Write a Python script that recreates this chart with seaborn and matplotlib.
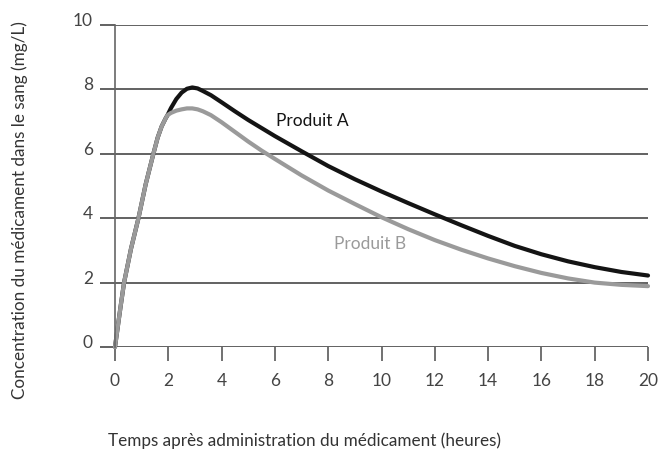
import matplotlib
matplotlib.use("Agg")
import matplotlib.pyplot as plt
from matplotlib.transforms import ScaledTranslation
import numpy as np
import pandas as pd
import seaborn as sns


# -------------------------------------------------------------------------------------------
# Données

temps_a = [0, 0.2, 0.34, 0.6, 0.88, 1.15, 1.44, 1.6, 1.75, 1.9, 1.97, 2.1, 2.3, 2.5, 2.7,
           2.9, 3.1, 3.3, 3.6, 4, 4.5, 5, 5.5, 6, 7, 8, 9, 10, 11, 12, 13, 14, 15, 16,
           17, 18, 19, 20]
conc_a = [0, 1.2, 2, 3.05, 4, 5.05, 6, 6.5, 6.85, 7.1, 7.2, 7.42, 7.7, 7.9, 8.02,
          8.06, 8.03, 7.95, 7.82, 7.6, 7.32, 7.05, 6.8, 6.55, 6.08, 5.62, 5.21, 4.83, 4.47,
          4.12, 3.78, 3.45, 3.14, 2.88, 2.66, 2.48, 2.33, 2.22]

temps_b = [0, 0.2, 0.34, 0.6, 0.88, 1.15, 1.44, 1.6, 1.75, 1.9, 1.97, 2.1, 2.3, 2.5, 2.7,
           2.9, 3.1, 3.3, 3.6, 4, 4.5, 5, 5.5, 6, 7, 8, 9, 10, 11, 12, 13, 14, 15, 16,
           17, 18, 19, 20]
conc_b = [0, 1.2, 2, 3.05, 4, 5.05, 6, 6.5, 6.85, 7.1, 7.2, 7.27, 7.34, 7.38, 7.41,
          7.41, 7.38, 7.32, 7.2, 6.98, 6.68, 6.38, 6.1, 5.84, 5.33, 4.86, 4.44, 4.03, 3.66,
          3.32, 3.02, 2.75, 2.51, 2.3, 2.13, 2.0, 1.93, 1.89]

y_ticks = [0, 2, 4, 6, 8, 10]
x_ticks = list(range(0, 21, 2))

df = pd.concat([
    pd.DataFrame({"temps": temps_a, "conc": conc_a, "produit": "Produit A"}),
    pd.DataFrame({"temps": temps_b, "conc": conc_b, "produit": "Produit B"}),
])


# -------------------------------------------------------------------------------------------
# Style

sns.set_style("white")
plt.rcParams["font.family"] = ["Lato", "DejaVu Sans"]

fig = plt.figure(figsize=(6.58, 4.54), dpi=100)
ax = fig.add_axes([115 / 658, 107 / 454, 533 / 658, 322 / 454])

sns.lineplot(
    data=df, x="temps", y="conc", hue="produit",
    palette={"Produit A": "#141414", "Produit B": "#9a9a9a"},
    linewidth=3.0, legend=False, ax=ax, sort=False,
)
for line in ax.lines:
    line.set_solid_joinstyle("round")
    line.set_solid_capstyle("round")
    line.set_clip_on(False)

# lignes horizontales
for y in y_ticks:
    ax.axhline(y, color="#555555", linewidth=1.3, zorder=0)

ax.set_xlim(0, 20)
ax.set_ylim(0, 10)
ax.set_xticks(x_ticks)
ax.set_yticks(y_ticks)

for side in ["top", "right", "bottom"]:
    ax.spines[side].set_visible(False)
ax.spines["left"].set_color("#666666")
ax.spines["left"].set_linewidth(1.2)

ax.tick_params(axis="y", left=True, length=11, width=1.3, color="#555555", pad=5,
               labelsize=12.5, labelcolor="#444444")
ax.tick_params(axis="x", bottom=True, length=10, width=1.3, color="#666666", pad=9,
               labelsize=12.5, labelcolor="#444444")
for lab in ax.get_yticklabels():
    lab.set_transform(lab.get_transform() + ScaledTranslation(0, 4 / 72, fig.dpi_scale_trans))

ax.set_xlabel("Temps après administration du médicament (heures)", fontsize=12.3, color="#333333")
ax.set_ylabel("Concentration du médicament dans le sang (mg/L)", fontsize=12.3, color="#333333")
ax.xaxis.set_label_coords(190 / 533, -85 / 322)
ax.yaxis.set_label_coords(-87 / 533, 137 / 322)

ax.text(7.39, 7.02, "Produit A", fontsize=12.5, color="#141414", ha="center", va="center")
ax.text(9.57, 3.2, "Produit B", fontsize=12.5, color="#9a9a9a", ha="center", va="center")

fig.savefig("out.png", dpi=100)
